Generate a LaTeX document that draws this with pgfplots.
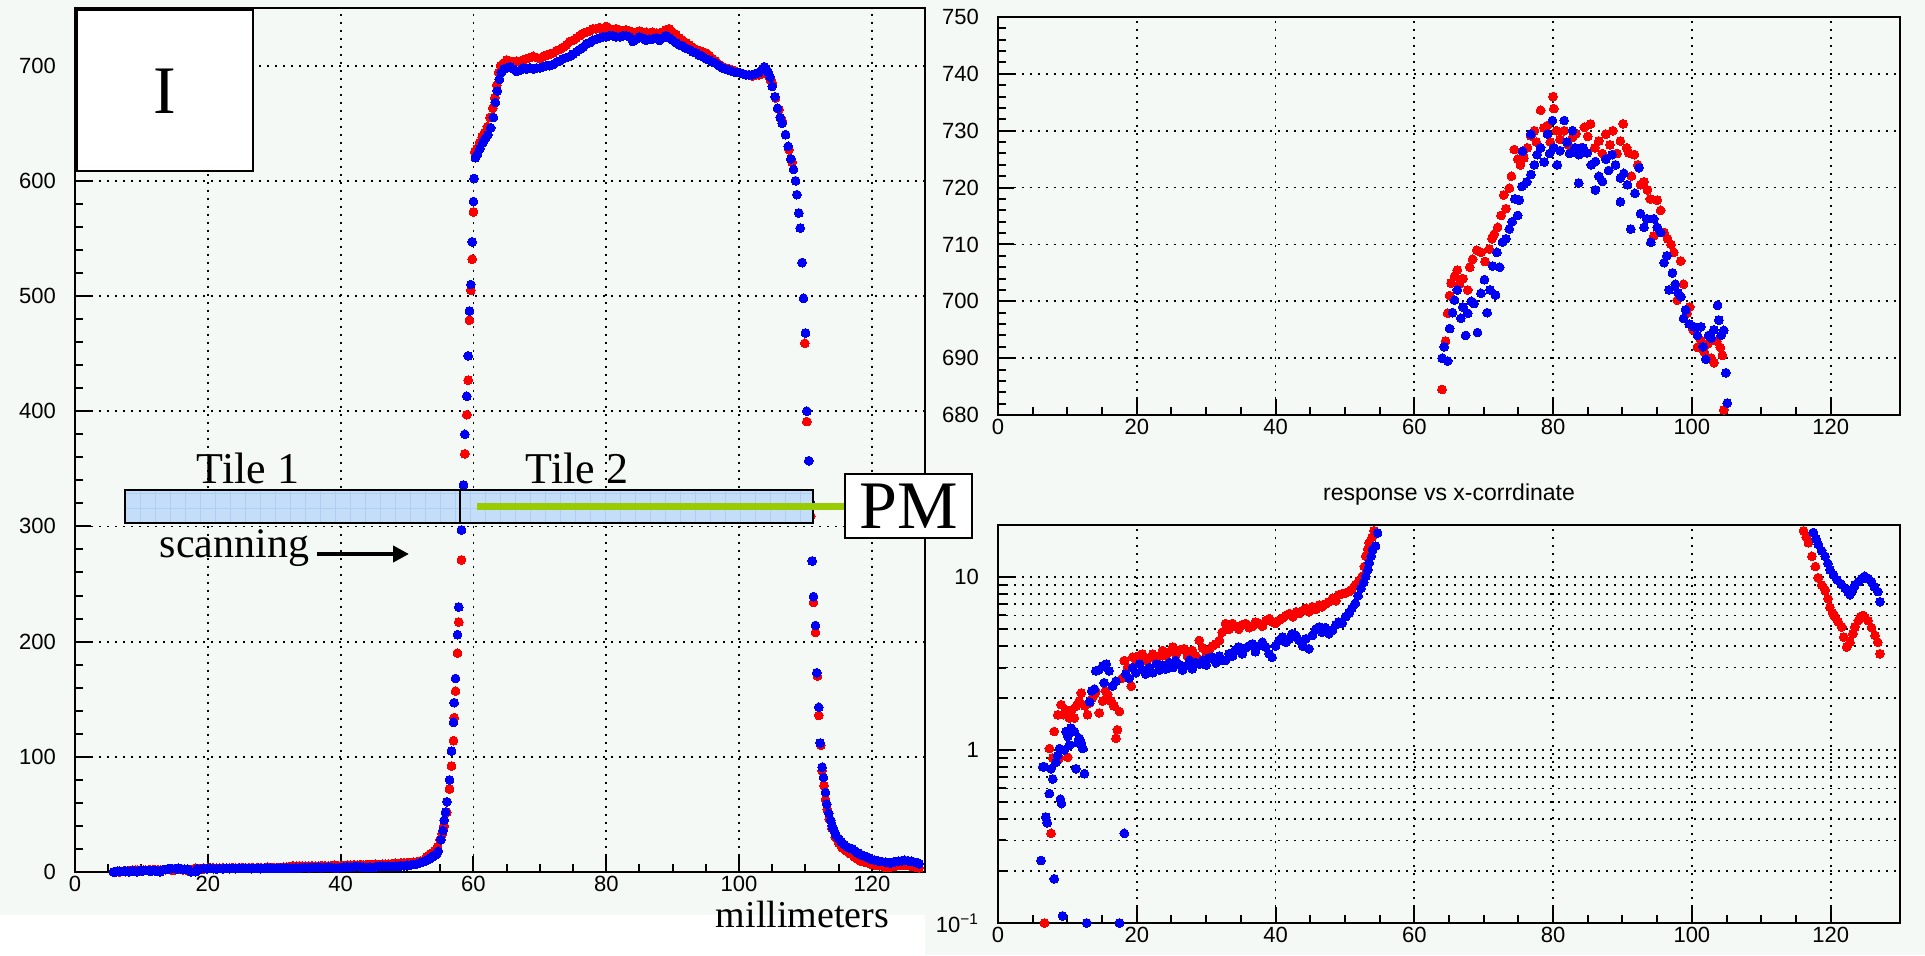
\documentclass[border=0pt]{standalone}
\usepackage{pgfplots}
\pgfplotsset{compat=1.18}
\usepackage{pgfplotstable}
\usepackage{fontspec}
\setmainfont{Liberation Sans}
\newfontfamily\serif{Liberation Serif}
\usetikzlibrary{arrows.meta}
\definecolor{bg}{RGB}{245,249,245}
\definecolor{tile}{RGB}{196,222,250}
\definecolor{tilegrid}{RGB}{176,206,242}
\definecolor{pmgreen}{RGB}{153,204,0}
\definecolor{mred}{RGB}{250,0,0}
\definecolor{mblue}{RGB}{0,0,245}

\pgfplotstableread{
x y
6.7 0.1
7.4 1.02
7.65 0.33
7.9 0.9
8.1 1.28
8.35 0.85
8.6 1.6
8.8 0.89
9.1 1.83
9.45 1.6
9.8 1.71
10.05 0.91
10.3 1.53
10.6 1.7
11.0 1.53
11.3 1.8
11.7 1.92
12.0 2.14
12.5 1.8
12.9 1.6
13.2 1.87
13.6 2.0
13.9 2.1
14.1 2.19
14.6 1.64
15.1 1.92
15.5 2.2
15.8 2.1
16.3 1.92
16.7 1.8
17.0 1.17
17.2 1.31
17.5 1.67
17.9 2.6
18.2 3.29
18.7 3.0
19.2 2.34
19.4 3.44
19.9 3.3
20.3 3.5
20.8 3.59
21.3 3.3
21.8 3.4
22.3 3.59
22.8 3.3
23.2 3.5
23.7 3.76
24.2 3.5
24.7 3.7
25.2 3.94
25.7 3.6
26.2 3.8
26.8 3.85
27.3 3.5
27.6 3.7
28.0 3.76
28.5 3.5
29.0 4.3
29.5 3.9
30.0 3.7
30.4 3.76
30.9 4.0
31.4 4.1
31.9 4.3
32.3 4.8
32.8 5.39
33.3 5.0
33.8 5.39
34.2 5.2
34.7 5.0
35.2 5.3
35.7 5.39
36.2 5.1
36.7 5.2
37.1 5.5
37.6 5.39
38.1 5.2
38.6 5.6
39.1 5.75
39.6 5.5
40.0 5.4
40.5 5.62
41.0 5.8
41.5 6.0
42.0 6.16
42.5 5.9
43.0 6.3
43.4 6.16
43.9 6.4
44.4 6.6
44.8 6.3
45.3 6.73
45.8 6.5
46.3 6.9
46.7 6.73
47.2 7.0
47.7 7.2
48.2 7.54
48.7 7.3
49.1 7.88
49.6 8.0
50.1 8.1
50.6 8.25
51.0 8.5
51.5 9.0
52.0 9.5
52.5 10.1
52.8 11.5
53.0 13.2
53.3 14.5
53.5 15.8
53.9 17
54.2 18.5
54.6 22
55.0 28
55.3 33
55.6 40
56.0 52
56.4 72
56.7 92
57.0 114
57.1 134
57.3 157
57.6 190
57.8 217
58.2 271
58.5 327
58.7 363
59.0 397
59.2 427
59.4 479
59.6 505
59.8 532
60.0 573
60.2 625
60.5 628
60.9 633
61.3 638
61.7 642
62.1 647
62.5 655
62.9 663
63.2 672
63.5 683
63.8 694
64.1 700
64.5 702
65.0 705
65.5 704
66.0 703
66.5 704
67.0 703
67.5 705
68.0 706
68.5 707
69.0 708
69.5 707
70.0 706
70.5 708
71.0 709
71.5 710
72.0 711
72.5 713
73.0 714
73.5 716
74.0 718
74.5 721
75.0 722
75.5 724
76.0 726
76.5 728
77.0 729
77.5 730
78.0 732
78.5 732
79.0 733
79.5 732
80.0 734
80.5 732
81.0 731
81.5 732
82.0 731
82.5 730
83.0 731
83.5 730
84.0 729
84.5 729
85.0 730
85.5 729
86.0 729
86.5 728
87.0 729
87.5 728
88.0 728
88.5 729
89.0 731
89.5 732
90.0 729
90.5 727
91.0 724
91.5 722
92.0 720
92.5 718
93.0 716
93.5 714
94.0 713
94.5 712
95.0 711
95.5 709
96.0 706
96.5 704
97.0 701
97.5 699
98.0 698
98.5 697
99.0 696
99.5 695
100.0 694
100.5 693
101.0 692
101.5 692
102.0 691
102.5 692
103.0 692
103.5 693
104.0 695
104.4 692
104.7 688
105.0 685
105.5 672
106.0 662
106.5 652
107.0 640
107.5 627
108.0 616
108.5 600
109.0 572
109.5 529
109.9 459
110.2 391
110.5 357
110.8 309
111.0 270
111.2 234
111.5 208
111.8 170
112.0 136
112.3 110
112.5 88
112.8 75
113.0 63
113.3 54
113.6 46
114.0 38
114.5 30
115.0 25
115.5 21
116.1 18.5
116.5 17
116.8 15.8
117.3 13.2
117.8 11.5
118.2 9.9
118.7 9.0
119.2 8.4
119.6 7.5
119.9 6.7
120.3 6.2
120.6 5.9
121.1 5.5
121.6 5.15
121.9 4.5
122.3 3.94
122.8 4.2
123.2 4.7
123.5 5.15
124.0 5.6
124.3 5.9
124.7 6.0
125.0 5.8
125.4 5.6
125.9 5.1
126.4 4.6
126.8 4.2
127.1 3.6
}\redL

\pgfplotstableread{
x y
5.8 0.05
6.2 0.23
6.45 0.8
6.7 0.8
6.9 0.41
7.1 0.38
7.4 0.56
7.65 0.78
7.9 0.68
8.1 0.18
8.35 0.85
8.6 0.93
8.85 1.02
9.0 0.52
9.15 0.49
9.3 0.11
9.55 1.0
9.8 1.28
10.05 1.2
10.3 1.07
10.5 1.34
10.75 1.3
11.0 1.28
11.25 0.78
11.5 1.1
11.7 1.17
12.0 1.1
12.2 1.02
12.45 0.73
12.8 0.1
13.2 1.9
13.5 2.2
13.9 2.25
14.1 2.87
14.5 2.9
15.1 3.07
15.3 2.45
15.6 3.14
16.0 2.87
16.5 2.34
17.0 2.5
17.5 0.1
18.2 0.33
18.4 2.75
18.9 2.6
19.4 3.0
19.9 2.8
20.4 3.14
20.9 2.9
21.3 2.75
21.8 3.0
22.3 2.8
22.8 3.14
23.3 2.9
23.7 3.1
24.2 2.94
24.7 3.2
25.2 3.0
25.6 3.29
26.1 3.1
26.6 2.9
27.1 3.07
27.6 3.3
28.0 2.95
28.5 3.2
29.0 3.14
29.5 3.3
30.0 3.1
30.4 3.4
30.9 3.44
31.4 3.2
31.9 3.5
32.3 3.3
32.8 3.29
33.3 3.6
33.8 3.5
34.2 3.8
34.7 3.94
35.2 3.6
35.7 3.9
36.2 4.0
36.7 4.11
37.1 3.7
37.6 4.0
38.1 4.2
38.6 3.94
39.1 3.6
39.5 3.44
40.0 4.0
40.5 4.3
41.0 4.5
41.5 4.2
42.0 4.4
42.4 4.7
42.9 4.6
43.4 4.3
43.9 4.0
44.4 4.4
44.8 3.85
45.3 4.6
45.8 5.0
46.3 5.15
46.7 4.8
47.2 5.1
47.7 4.7
48.2 4.92
48.7 5.3
49.1 5.5
49.6 5.4
50.1 5.9
50.6 6.2
51.0 6.6
51.5 7.05
51.9 7.8
52.3 8.6
52.7 9.3
53.0 10.1
53.3 11.0
53.5 12.1
53.8 13.2
54.0 14.4
54.4 15.1
54.7 18
55.1 28
55.4 36
55.6 45
55.8 52
56.0 61
56.4 80
56.7 105
57.0 130
57.1 147
57.3 168
57.6 206
57.8 230
58.2 297
58.5 336
58.7 380
59.0 413
59.2 448
59.4 487
59.6 510
59.8 547
60.0 582
60.1 602
60.3 620
60.6 623
61.0 628
61.4 633
61.8 637
62.2 640
62.6 646
63.0 655
63.3 668
63.6 678
63.9 688
64.2 694
64.6 697
65.0 698
65.5 699
66.0 697
66.5 695
67.0 696
67.5 698
68.0 697
68.5 698
69.0 697
69.5 698
70.0 698
70.5 699
71.0 700
71.5 700
72.0 701
72.5 703
73.0 704
73.5 706
74.0 707
74.5 708
75.0 710
75.5 712
76.0 714
76.5 716
77.0 719
77.5 720
78.0 722
78.5 723
79.0 724
79.5 725
80.0 725
80.5 726
81.0 726
81.5 725
82.0 725
82.5 726
83.0 726
83.5 725
84.0 721
84.5 723
85.0 725
85.5 724
86.0 722
86.5 723
87.0 723
87.5 724
88.0 722
88.5 724
89.0 726
89.5 724
90.0 722
90.5 720
91.0 718
91.5 717
92.0 715
92.5 714
93.0 712
93.5 711
94.0 709
94.5 708
95.0 706
95.5 705
96.0 703
96.5 702
97.0 700
97.5 698
98.0 697
98.5 696
99.0 695
99.5 694
100.0 694
100.5 693
101.0 692
101.5 692
102.0 692
102.5 693
103.0 694
103.5 697
103.8 699
104.1 697
104.4 694
104.7 690
105.0 682
105.4 673
105.8 663
106.2 655
106.5 650
107.0 640
107.4 630
107.8 619
108.2 610
108.5 600
108.7 588
109.0 572
109.2 559
109.5 529
109.7 498
110.0 468
110.2 400
110.5 357
110.7 321
111.0 270
111.2 239
111.5 214
111.7 173
112.0 143
112.2 112
112.5 91
112.7 82
113.0 69
113.2 59
113.5 51
113.8 45
114.0 40
114.3 36
114.6 32
115.0 29
115.4 26
115.8 24
116.2 22
116.6 21
117.0 20.2
117.5 18.1
117.9 16.6
118.2 15.5
118.7 14.2
119.2 13.2
119.6 12
119.9 11.0
120.4 10.3
120.9 9.66
121.5 9.1
122.1 8.6
122.5 8.2
122.8 7.9
123.2 8.5
123.5 9.0
124.0 9.4
124.5 9.8
124.9 10.1
125.4 9.8
125.9 9.4
126.3 8.8
126.8 8.25
127.1 7.2
}\blueL

\pgfplotstableread{
x y
64.0 684.5
64.5 693
64.8 697.9
65.1 701
65.3 703.2
65.8 704.4
66.2 705.5
66.5 703
67.0 704
67.7 702
68.0 706
68.4 707.4
69.0 709
69.6 708.6
70.2 707
70.8 709.2
71.2 711
71.5 711.8
72.0 713
72.5 715.1
72.9 718.7
73.2 716.3
73.7 719.9
74.0 722
74.4 726.7
74.9 725
75.3 724
75.8 725.2
76.3 727
76.8 729.1
77.3 730
77.6 728
78.2 733.6
78.7 730.5
79.2 730.9
79.6 728
80.0 736
80.1 733.9
80.5 730
81.0 728.5
81.6 730
82.2 727.5
82.8 728.8
83.3 729.5
84.0 727
84.5 730.6
85.0 729
85.4 731.2
86.0 727
86.6 728.2
87.1 726
87.6 729.4
88.2 727.5
88.6 730
89.2 726
89.7 728.2
90.1 731.2
90.6 727
90.9 726.1
91.3 722
91.7 725.8
92.2 724
92.6 720.5
93.1 721
93.6 719.6
94.0 718
94.5 711.5
95.0 717.8
95.5 716
96.0 712.1
96.5 711
97.0 710
97.4 708.6
97.9 700.2
98.4 707.1
98.8 703
99.3 697.9
99.7 699
100.2 695
100.8 691.9
101.3 693.1
101.8 691
102.3 692.5
102.8 690
103.2 689.2
103.6 693
104.1 691.9
104.4 690.5
104.6 680.9
}\redT

\pgfplotstableread{
x y
64.0 690
64.3 692
64.8 689.5
65.1 695.2
65.5 698
65.8 700.2
66.2 702
66.7 697
67.0 699
67.4 694
67.7 697.9
68.2 700
68.6 699.6
69.1 694.5
69.6 701.4
70.1 703.8
70.5 698
70.9 702
71.3 706.2
71.7 701.1
71.9 708.6
72.3 706
72.7 710.4
73.2 711
73.7 712.7
74.1 714
74.5 718
74.9 715.1
75.1 717.8
75.5 720.2
75.6 726.4
76.2 721
76.8 722.3
76.8 729.4
77.3 724
77.7 725.8
78.2 727
78.7 724.5
79.2 729.4
79.5 726
79.9 731.8
80.1 727
80.6 724
81.0 726.5
81.6 731.8
82.0 728
82.4 726
82.8 730
83.2 727
83.7 725.8
83.7 720.8
84.3 727
84.9 726.1
85.5 724
86.1 724.6
86.1 719.6
86.6 722
87.1 721.1
87.6 725
88.0 723
88.5 725.8
89.0 724
89.7 721.7
89.7 717.5
90.2 722.5
90.7 720.5
91.2 712.7
91.8 719
92.4 723.5
92.6 715.4
93.1 713
93.5 714.5
94.1 710.4
94.5 714.5
95.0 713
95.5 712.1
96.0 706.8
96.4 708
96.7 702
97.2 705
97.6 703
98.0 701.5
98.4 700.8
98.8 697
99.1 698.5
99.6 696
100.3 695.5
100.8 694
101.3 695.5
101.6 692
102.0 689.8
102.4 694
102.8 693.5
103.2 695
103.7 699.3
103.9 696.7
104.2 694
104.6 694.9
104.9 687.4
105.1 682.1
}\blueT

\pgfplotsset{
  rootstyle/.style={
    scale only axis, anchor=south west,
    tick align=inside, tick pos=left,
    major tick length=8pt, minor tick length=4pt,
    every tick/.style={black, line width=1pt},
    axis line style={line width=1pt},
    xmajorgrids=true, ymajorgrids=true,
    major grid style={black, line width=0.9pt, dash pattern=on 0.9pt off 3.1pt},
    minor grid style={black, line width=0.9pt, dash pattern=on 0.9pt off 3.1pt},
    ticklabel style={font=\fontsize{11}{12}\selectfont},
    /pgf/number format/assume math mode=true,
    xtick={0,20,...,120}, minor x tick num=3,
    yticklabel style={xshift=-6pt},
    xticklabel style={yshift=-1pt, inner sep=1pt},
  },
  redpts/.style={only marks, mark=*, mark size=2.2pt, color=mred, draw=mred, fill=mred,
    mark options={draw=mred, fill=mred, line width=0pt}},
  bluepts/.style={only marks, mark=*, mark size=2.2pt, color=mblue, draw=mblue, fill=mblue,
    mark options={draw=mblue, fill=mblue, line width=0pt}},
}

\begin{document}
\begin{tikzpicture}
\fill[bg] (0,0) rectangle (962.5pt,477.5pt);
\useasboundingbox (0,0) rectangle (962.5pt,477.5pt);
\fill[white] (0,0) rectangle (462.5pt,20pt);

% left panel
\begin{axis}[rootstyle, at={(37.5pt,41.5pt)}, width=425pt, height=432pt,
  xmin=0, xmax=128, ymin=0, ymax=750,
  ytick={0,100,...,700}, minor y tick num=4]
\addplot[redpts] table {\redL};
\addplot[bluepts] table {\blueL};
\end{axis}

% top right panel
\begin{axis}[rootstyle, at={(499pt,270pt)}, width=451pt, height=199pt,
  xmin=0, xmax=130, ymin=680, ymax=750,
  ytick={680,690,...,750}, minor y tick num=4]
\addplot[redpts] table {\redT};
\addplot[bluepts] table {\blueT};
\end{axis}

% bottom right panel
\begin{axis}[rootstyle, at={(499pt,16pt)}, width=451pt, height=199pt,
  xmin=0, xmax=130, ymode=log, ymin=0.1, ymax=20,
  ytick={0.1,1,10}, yticklabels={10\textsuperscript{−1},1,10},
  minor ytick={0.2,0.3,0.4,0.5,0.6,0.7,0.8,0.9,2,3,4,5,6,7,8,9},
  yminorgrids=true]
\addplot[redpts] table {\redL};
\addplot[bluepts] table {\blueL};
\end{axis}

\node[font=\fontsize{11.5}{13}\selectfont] at (724.5pt,230pt) {response vs x-corrdinate};

% box "I"
\draw[line width=1pt, fill=white] (38.5pt,392pt) rectangle (126.5pt,472.5pt);
\node[font=\serif\fontsize{34}{36}\selectfont] at (82.5pt,432pt) {I};

% tiles
\fill[tile] (62.5pt,216pt) rectangle (406.5pt,232.5pt);
\begin{scope}
\clip (62.5pt,216pt) rectangle (406.5pt,232.5pt);
\draw[tilegrid, line width=0.3pt, step=7.5pt, shift={(62.5pt,216pt)}] (0,0) grid (344pt,16.5pt);
\end{scope}
\draw[line width=0.7pt] (62.5pt,216pt) rectangle (406.5pt,232.5pt);
\draw[line width=0.7pt] (230pt,216pt) -- (230pt,232.5pt);
\draw[pmgreen, line width=3.5pt] (238.5pt,224.5pt) -- (422.5pt,224.5pt);
\draw[line width=1pt, fill=white] (422.5pt,208.5pt) rectangle (486pt,240.5pt);
\node[font=\serif\fontsize{34}{36}\selectfont] at (454.25pt,224.5pt) {PM};

\node[anchor=base, font=\serif\fontsize{22}{24}\selectfont] at (124pt,236pt) {Tile 1};
\node[anchor=base, font=\serif\fontsize{22}{24}\selectfont] at (288.5pt,236pt) {Tile 2};
\node[anchor=base, font=\serif\fontsize{21}{23}\selectfont] at (117.25pt,199pt) {scanning};
\draw[line width=2pt, -{Triangle[length=8pt,width=8pt]}] (158.5pt,200.5pt) -- (204.5pt,200.5pt);
\node[anchor=base, inner sep=0pt, font=\serif\fontsize{19}{21}\selectfont] at (401.25pt,14pt) {millimeters};
\end{tikzpicture}
\end{document}
